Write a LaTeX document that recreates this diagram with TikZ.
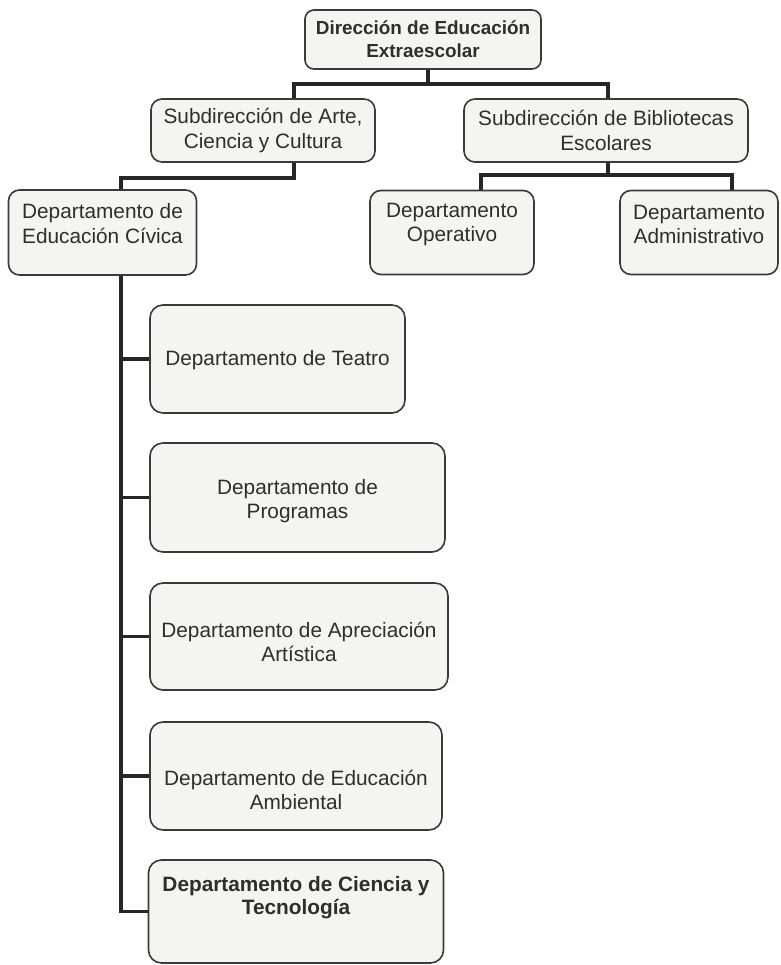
\documentclass[tikz,border=0pt]{standalone}
\usepackage{fontspec}
\setmainfont{Liberation Sans}
\definecolor{linie}{HTML}{262626}
\definecolor{rand}{HTML}{3A3A3A}
\definecolor{fuell}{HTML}{F4F4F2}
\definecolor{schrift}{HTML}{2E2E2E}
\tikzset{
  caja/.style={draw=rand,fill=fuell,rounded corners=11pt,line width=1.6pt,inner sep=0pt},
  texto/.style={align=center,text=schrift,font=\fontsize{20.8}{24.5}\selectfont},
  textob/.style={texto,font=\bfseries\fontsize{20.8}{22.5}\selectfont},
  rama/.style={linie,line width=3.6pt},
}

\begin{document}
\begin{tikzpicture}[x=1pt,y=-1pt]
  \useasboundingbox[fill=white] (0,0) rectangle (780,965);
  % Dirección y subdirecciones
  \node[caja,minimum width=236pt,minimum height=59pt,rounded corners=9pt] (dir) at (423,39.5) {};
  \node[textob,font=\bfseries\fontsize{18.9}{23}\selectfont] (dirT) at (dir.center) {Dirección de Educación\\Extraescolar};
  \node[caja,minimum width=224pt,minimum height=63pt] (sub1) at (263,130.5) {};
  \node[texto] (sub1T) at (sub1.center) {Subdirección de Arte,\\Ciencia y Cultura};
  \node[caja,minimum width=284pt,minimum height=63pt] (sub2) at (606,130.5) {};
  \node[texto] (sub2T) at (sub2.center) {Subdirección de Bibliotecas\\Escolares};
  % tercer nivel
  \node[caja,minimum width=188pt,minimum height=85pt] (civica) at (102.5,232.5) {};
  \node[texto] (civicaT) at ([yshift=9pt]civica.center) {Departamento de\\Educación Cívica};
  \node[caja,minimum width=164pt,minimum height=84pt] (oper) at (452,232.5) {};
  \node[texto] (operT) at ([yshift=8pt]oper.center) {Departamento\\Operativo};
  \node[caja,minimum width=158pt,minimum height=84pt] (admin) at (699,232.5) {};
  \node[texto] (adminT) at ([yshift=8pt]admin.center) {Departamento\\Administrativo};
  % departamentos de Educación Cívica
  \node[caja,minimum width=255pt,minimum height=108pt,rounded corners=13pt] (teatro) at (277.5,359) {};
  \node[texto] (teatroT) at ([yshift=-1pt]teatro.center) {Departamento de Teatro};
  \node[caja,minimum width=295pt,minimum height=109pt,rounded corners=13pt] (progr) at (297.5,497.5) {};
  \node[texto] (progrT) at ([yshift=-3.5pt]progr.center) {Departamento de\\Programas};
  \node[caja,minimum width=298pt,minimum height=107pt,rounded corners=13pt] (aprec) at (299,636.5) {};
  \node[texto] (aprecT) at ([yshift=-5.5pt]aprec.center) {Departamento de Apreciación\\Artística};
  \node[caja,minimum width=292pt,minimum height=108pt,rounded corners=13pt] (ambi) at (296,776) {};
  \node[texto] (ambiT) at ([yshift=-14pt]ambi.center) {Departamento de Educación\\Ambiental};
  \node[caja,minimum width=295pt,minimum height=103pt,rounded corners=13pt] (tecno) at (296,911.5) {};
  \node[textob] (tecnoT) at ([yshift=14pt]tecno.center) {Departamento de Ciencia y\\Tecnología};
  % ramas
  \draw[rama] ([xshift=5pt]dir.south) -- ++(0,14) coordinate (t1);
  \draw[rama] (t1) -| ([xshift=31pt]sub1.north);
  \draw[rama] (t1) -| ([xshift=2pt]sub2.north);
  \draw[rama] ([xshift=31pt]sub1.south) -- ++(0,15) -| ([xshift=18.5pt]civica.north);
  \draw[rama] ([xshift=2pt]sub2.south) -- ++(0,12) coordinate (t2);
  \draw[rama] (t2) -| ([xshift=29pt]oper.north);
  \draw[rama] (t2) -| ([xshift=33pt]admin.north);
  \coordinate (stamm) at ([xshift=18.5pt]civica.south);
  \draw[rama] (stamm) |- (tecno.west);
  \foreach \n in {teatro,progr,aprec,ambi}
    \draw[rama] (stamm |- \n.west) -- (\n.west);
\end{tikzpicture}
\end{document}
